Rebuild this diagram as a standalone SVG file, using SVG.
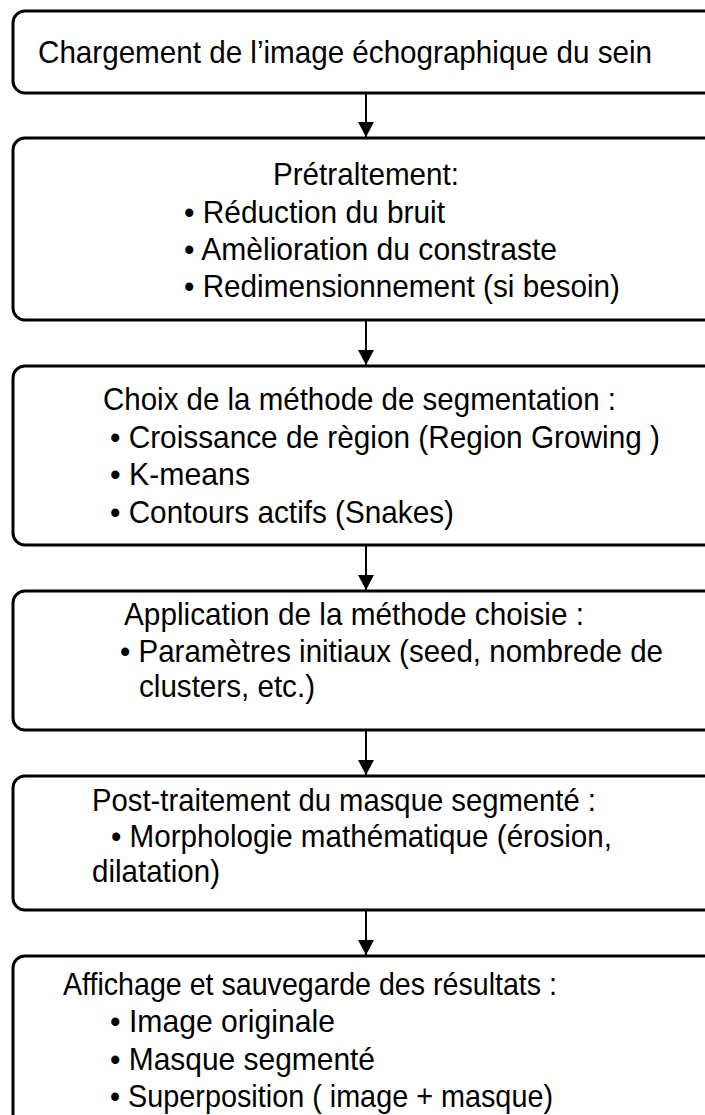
<svg xmlns="http://www.w3.org/2000/svg" width="705" height="1115" viewBox="0 0 705 1115">
<style>
.box{fill:#fff;stroke:#000;stroke-width:3}
.t{font-family:"Liberation Sans",Arial,sans-serif;font-size:32px;fill:#000}
.c{stroke:#000;stroke-width:2;fill:none}
</style>
<defs>
<marker id="ah" markerWidth="16" markerHeight="16" viewBox="0 0 16 16" refX="15" refY="8" orient="auto" markerUnits="userSpaceOnUse">
<path d="M0,0 L15,8 L0,16 Z" fill="#000"/>
</marker>
</defs>
<rect width="705" height="1115" fill="#fff"/>
<g id="n1">
<rect class="box" x="13" y="11" width="720" height="82" rx="12"/>
<text class="t" x="38" y="63" textLength="614" lengthAdjust="spacingAndGlyphs">Chargement de l’image échographique du sein</text>
</g>
<g id="n2">
<rect class="box" x="13" y="138" width="720" height="182" rx="12"/>
<text class="t" x="273" y="185" textLength="186" lengthAdjust="spacingAndGlyphs">Prétraltement:</text>
<text class="t" x="184" y="223" textLength="261" lengthAdjust="spacingAndGlyphs">• Réduction du bruit</text>
<text class="t" x="184" y="260" textLength="373" lengthAdjust="spacingAndGlyphs">• Amèlioration du constraste</text>
<text class="t" x="184" y="297" textLength="436" lengthAdjust="spacingAndGlyphs">• Redimensionnement (si besoin)</text>
</g>
<g id="n3">
<rect class="box" x="13" y="366" width="720" height="179" rx="12"/>
<text class="t" x="103" y="410" textLength="513" lengthAdjust="spacingAndGlyphs">Choix de la méthode de segmentation :</text>
<text class="t" x="110" y="448" textLength="550" lengthAdjust="spacingAndGlyphs">• Croissance de règion (Region Growing )</text>
<text class="t" x="110" y="485" textLength="140" lengthAdjust="spacingAndGlyphs">• K-means</text>
<text class="t" x="110" y="523" textLength="344" lengthAdjust="spacingAndGlyphs">• Contours actifs (Snakes)</text>
</g>
<g id="n4">
<rect class="box" x="13" y="591" width="720" height="139" rx="12"/>
<text class="t" x="124" y="625" textLength="460" lengthAdjust="spacingAndGlyphs">Application de la méthode choisie :</text>
<text class="t" x="120" y="662" textLength="543" lengthAdjust="spacingAndGlyphs">• Paramètres initiaux (seed, nombrede de</text>
<text class="t" x="139" y="697" textLength="176" lengthAdjust="spacingAndGlyphs">clusters, etc.)</text>
</g>
<g id="n5">
<rect class="box" x="13" y="776" width="720" height="134" rx="12"/>
<text class="t" x="92" y="811" textLength="504" lengthAdjust="spacingAndGlyphs">Post-traitement du masque segmenté :</text>
<text class="t" x="111" y="847" textLength="501" lengthAdjust="spacingAndGlyphs">• Morphologie mathématique (érosion,</text>
<text class="t" x="92" y="882" textLength="128" lengthAdjust="spacingAndGlyphs">dilatation)</text>
</g>
<g id="n6">
<rect class="box" x="13" y="956" width="720" height="190" rx="12"/>
<text class="t" x="63" y="995" textLength="494" lengthAdjust="spacingAndGlyphs">Affichage et sauvegarde des résultats :</text>
<text class="t" x="110" y="1032" textLength="225" lengthAdjust="spacingAndGlyphs">• Image originale</text>
<text class="t" x="110" y="1070" textLength="265" lengthAdjust="spacingAndGlyphs">• Masque segmenté</text>
<text class="t" x="110" y="1107" textLength="443" lengthAdjust="spacingAndGlyphs">• Superposition ( image + masque)</text>
</g>
<g id="connectors">
<line class="c" x1="366" y1="94" x2="366" y2="137" marker-end="url(#ah)"/>
<line class="c" x1="366" y1="321" x2="366" y2="365" marker-end="url(#ah)"/>
<line class="c" x1="366" y1="546" x2="366" y2="590" marker-end="url(#ah)"/>
<line class="c" x1="366" y1="731" x2="366" y2="775" marker-end="url(#ah)"/>
<line class="c" x1="366" y1="911" x2="366" y2="955" marker-end="url(#ah)"/>
</g>
</svg>
